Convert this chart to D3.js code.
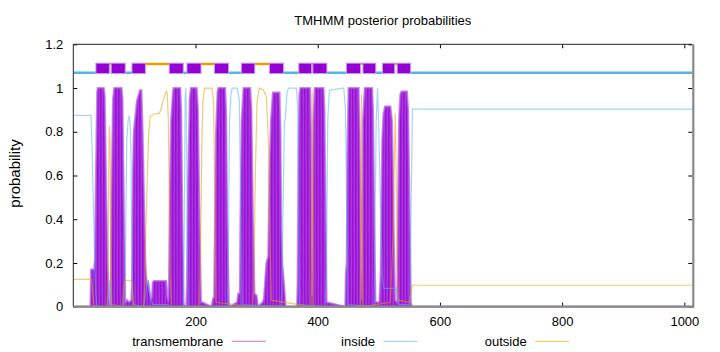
<!DOCTYPE html>
<meta charset="utf-8">
<script src="https://d3js.org/d3.v7.min.js"></script>
<style>
  body { margin: 0; background: #fff; }
  text { font-family: "Liberation Sans", Arial, sans-serif; }
</style>
<div id="chart"></div>
<script>
// posterior probabilities, as [residue, probability]
var transmembrane = [
  [0,0],[28,0],[29,0.17],[34,0.17],[35.5,0.22],[37,0.6],[39,0.98],[40,1],[50,1],[51.5,0.96],[53.5,0.6],[56,0.2],[58,0.05],[59.5,0],
  [61,0],[62.5,0.5],[65,0.95],[67,1],[79,1],[80.5,0.95],[83,0.4],[85,0.02],[88,0.03],[91,0.02],[95,0.03],
  [96,0.1],[97.5,0.6],[99,0.8],[104,0.94],[109,0.99],[111.5,0.99],[113.5,0.8],[116,0.45],[118,0.2],
  [120,0.1],[122,0.12],[124,0.08],[127,0.03],[129,0.05],[130,0.11],[132,0.117],[152,0.117],[153.5,0.05],[155.5,0.02],
  [156.5,0.1],[158,0.5],[160,0.85],[163,0.98],[164,1],[175,1],[176.5,0.9],[178.5,0.4],[180.5,0.02],[182,0],[185,0],
  [186,0.1],[188,0.6],[190.5,0.95],[192.5,1],[202,1],[204,0.9],[206.5,0.4],[209,0.02],[211,0.02],[226,0],[229,0.04],[230.5,0.04],
  [231.5,0.3],[233.5,0.8],[236,0.98],[237.5,1],[248.5,1],[250,0.9],[252,0.4],[254.5,0.02],[256,0],[268,0.02],[270,0.06],[272.5,0.06],
  [273.5,0.4],[275.5,0.85],[278.5,1],[289.5,1],[291.5,0.9],[294,0.4],[296.5,0.06],[300,0.05],[302,0],[310,0.02],[312,0.04],[316,0.2],[319,0.23],
  [321,0.6],[323.5,0.85],[326.5,0.98],[337.5,0.98],[339,0.8],[340.5,0.35],[342,0.2],[345,0.1],[347.5,0],[366,0],
  [367,0.1],[368.5,0.7],[370,0.97],[371.5,1],[387.5,1],[389,0.8],[390.3,0.3],[391,0.05],
  [391.7,0.3],[393,0.85],[395,1],[409.5,1],[411,0.9],[413,0.4],[414.5,0.02],[445,0],[446,0.15],[447.5,0.2],
  [448.5,0.7],[450.5,1],[467,1],[468.5,0.8],[470.3,0.3],[471.5,0.03],
  [472.5,0.3],[474,0.85],[477,1],[489,1],[490.5,0.9],[492.5,0.4],[494.5,0.02],[501,0.02],[503,0.15],
  [505.5,0.76],[507.5,0.88],[510,0.916],[519,0.916],[521.5,0.85],[523.5,0.55],[525,0.25],[526.5,0.03],[530,0.02],
  [531,0.3],[533,0.85],[535,0.97],[537,0.984],[546,0.984],[548,0.9],[550.5,0.4],[552.5,0.02],[554,0],[1013,0]
];
var inside = [
  [0,0.875],[29,0.875],[31,0.7],[33,0.45],[35,0.2],[37,0.05],[39,0],[55,0],[57.5,0.05],[59.5,0.12],[61,0.08],[62.5,0],
  [83,0],[85,0.15],[87.5,0.76],[90,0.86],[91.5,0.87],[93,0.84],[94.3,0.7],[96.2,0.15],[98.4,0.01],
  [115,0],[118,0.05],[121,0.12],[124,0.1],[127,0.03],[130,0.01],[155,0.01],[157,0],
  [180,0],[181.5,0.3],[183,0.95],[184,1],[185,0.9],[186.5,0.3],[188,0],
  [252,0],[254,0.3],[255.7,0.85],[258,0.97],[260,1],[268,1],[271.6,0.95],[273.8,0.5],[276,0.01],
  [339.5,0],[341,0.05],[343.3,0.45],[345.4,0.84],[347,0.86],[349.8,0.98],[352.5,1],[365,1],[367.2,0.92],[368.5,0.5],[370,0.01],
  [412,0],[414.3,0.15],[416.4,0.85],[419.2,0.99],[442.6,1],[445.4,0.9],[447,0.5],[449.2,0.01],
  [492,0],[493.5,0.3],[495.7,0.85],[497.9,1],[500,0.8],[502.8,0.45],[505.6,0.15],[508.2,0.084],[528,0.084],[530,0.06],[532.5,0.01],
  [551,0.01],[553,0.5],[555,0.904],[1013,0.904]
];
var outside = [
  [0,0.125],[30,0.125],[32,0.06],[34,0.01],[36,0],[55.5,0],[57,0.15],[58,0.6],[59,0.83],[60.2,0.76],[61.3,0.3],[63,0.01],
  [80,0],[83,0.1],[85,0.12],[94,0.12],[96,0.1],[98,0.02],[100,0],
  [115,0],[117,0.1],[118.7,0.35],[121,0.58],[123.5,0.8],[126,0.87],[131,0.88],[141,0.885],[144,0.91],[146.5,0.94],[149.5,0.965],
  [152.5,0.985],[154,0.97],[155.5,0.85],[157,0.5],[158.5,0.15],[160.5,0],
  [206,0],[207.7,0.15],[210.5,0.76],[212.1,0.94],[214.8,1],[226.9,1],[229.5,0.94],[231.1,0.6],[233.4,0.02],
  [293,0],[295.1,0.05],[297.9,0.6],[300.6,0.93],[304.4,1],[311.5,0.99],[315.9,0.96],[319.2,0.76],[321.3,0.4],[324.1,0.03],
  [389,0],[390.2,0.5],[391,0.98],[391.8,0.5],[393,0],
  [469.5,0],[470.8,0.5],[471.6,0.97],[472.4,0.5],[473.5,0],
  [519,0.02],[523.6,0.35],[525.5,0.7],[527,0.885],[528.5,0.6],[530,0.2],[532,0.03],[550,0.02],[552.5,0.06],[555,0.098],[1013,0.098]
];

// predicted topology, [start, end] residues
var topoInside = [[0,37],[85,96],[180,186],[254,275],[344,369],[415,447],[495,506],[552,1013]];
var topoOutside = [[59,62],[118,157],[209,231],[297,321],[390,392],[470,474],[526,530]];
var topoTM = [[37,59],[62,85],[96,118],[157,180],[186,209],[231,254],[275,297],[321,344],[369,390],[392,415],[447,470],[474,495],[506,526],[530,552]];

var seqLength = 1013;
var xTicks = [200, 400, 600, 800, 1000];
var yTicks = [0, 0.2, 0.4, 0.6, 0.8, 1, 1.2];
var legendLabels = ["transmembrane", "inside", "outside"];

var cTM = "#9400d3", cIn = "#56b4e9", cOut = "#e69f00";

var margin = {top: 44.3, right: 27.7, bottom: 45.3, left: 73.3},
    width = 720 - margin.left - margin.right,
    height = 352 - margin.top - margin.bottom;

var root = d3.select("#chart").append("svg")
    .attr("width", 720)
    .attr("height", 352);

var defs = root.append("defs");
var pat = defs.append("pattern")
    .attr("id", "impulses")
    .attr("patternUnits", "userSpaceOnUse")
    .attr("width", 3).attr("height", 10);
pat.append("rect").attr("width", 3).attr("height", 10).attr("fill", "#aa3cdf");
pat.append("rect").attr("width", 1.2).attr("height", 10).attr("fill", cTM);

var svg = root.append("g")
    .attr("transform", "translate(" + margin.left + "," + margin.top + ")");

var x = d3.scaleLinear().domain([0, seqLength]).range([0, width]);
var y = d3.scaleLinear().domain([0, 1.2]).range([height, 0]);

// axes, ticks pointing inwards like gnuplot
function styleAxis(g) {
  g.select(".domain").remove();
  g.selectAll("line").attr("stroke", "#000");
  g.selectAll("text").attr("font-size", 13).attr("fill", "#000")
    .attr("font-family", '"Liberation Sans", Arial, sans-serif');
}
svg.append("g")
    .call(d3.axisLeft(y).tickValues(yTicks).tickSize(-4).tickPadding(10).tickFormat(d => String(d)))
    .call(styleAxis);
svg.append("g")
    .attr("transform", "translate(" + width + ",0)")
    .call(d3.axisRight(y).tickValues(yTicks).tickSize(-4).tickFormat(""))
    .call(styleAxis);
svg.append("g")
    .attr("transform", "translate(0," + height + ")")
    .call(d3.axisBottom(x).tickValues(xTicks).tickSize(-4).tickPadding(10.5).tickFormat(d3.format("d")))
    .call(styleAxis);
svg.append("g")
    .call(d3.axisTop(x).tickValues(xTicks).tickSize(-4).tickFormat(""))
    .call(styleAxis);

// transmembrane as filled impulses (lw 2 gives a soft fringe)
var area = d3.area()
    .x(d => x(d[0]))
    .y0(y(0))
    .y1(d => y(d[1]));
svg.append("path")
    .datum(transmembrane)
    .attr("d", area)
    .attr("fill", "url(#impulses)")
    .attr("stroke", "#b256e4")
    .attr("stroke-opacity", 0.7)
    .attr("stroke-width", 2);

var line = d3.line()
    .x(d => x(d[0]))
    .y(d => y(d[1]));
svg.append("path")
    .datum(inside)
    .attr("d", line)
    .attr("fill", "none")
    .attr("stroke", cIn)
    .attr("stroke-opacity", 0.55)
    .attr("stroke-width", 1.2);
svg.append("path")
    .datum(outside)
    .attr("d", line)
    .attr("fill", "none")
    .attr("stroke", cOut)
    .attr("stroke-opacity", 0.55)
    .attr("stroke-width", 1.2);

// topology bar above the curves
svg.selectAll(".topoIn")
  .data(topoInside)
  .enter().append("line")
    .attr("x1", d => x(d[0])).attr("x2", d => x(d[1]))
    .attr("y1", y(1.07)).attr("y2", y(1.07))
    .attr("stroke", cIn).attr("stroke-width", 2.5);
svg.selectAll(".topoOut")
  .data(topoOutside)
  .enter().append("line")
    .attr("x1", d => x(d[0])).attr("x2", d => x(d[1]))
    .attr("y1", y(1.11)).attr("y2", y(1.11))
    .attr("stroke", cOut).attr("stroke-width", 2.5);
svg.selectAll(".topoTM")
  .data(topoTM)
  .enter().append("rect")
    .attr("x", d => x(d[0]))
    .attr("width", d => x(d[1]) - x(d[0]))
    .attr("y", y(1.09) - 5.2)
    .attr("height", 10.4)
    .attr("fill", cTM)
    .attr("stroke", "#c79ae8")
    .attr("stroke-width", 1);

// border: thin black top/left, thick grey bottom/right
svg.append("line").attr("x1", 0).attr("x2", width).attr("y1", 0).attr("y2", 0)
    .attr("stroke", "#222").attr("stroke-width", 1);
svg.append("line").attr("x1", 0).attr("x2", 0).attr("y1", 0).attr("y2", height)
    .attr("stroke", "#222").attr("stroke-width", 1);
svg.append("line").attr("x1", 0).attr("x2", width + 1).attr("y1", height).attr("y2", height)
    .attr("stroke", "#888").attr("stroke-width", 2.2);
svg.append("line").attr("x1", width + 1).attr("x2", width + 1).attr("y1", 0).attr("y2", height + 1)
    .attr("stroke", "#888").attr("stroke-width", 2.2);

// title and axis label
root.append("text")
    .attr("x", margin.left + width / 2).attr("y", 25)
    .attr("text-anchor", "middle").attr("font-size", 13)
    .text("TMHMM posterior probabilities");
root.append("text")
    .attr("transform", "translate(20," + (margin.top + height / 2 - 2) + ")rotate(-90)")
    .attr("text-anchor", "middle").attr("font-size", 15)
    .text("probability");

// key below the plot
var legendColors = [cTM, cIn, cOut];
var key = root.selectAll(".key")
  .data(legendLabels)
  .enter().append("g")
    .attr("transform", (d, i) => "translate(" + (223.3 + i * 151.7) + ",0)");
key.append("text")
    .attr("x", 0).attr("y", 346)
    .attr("text-anchor", "end").attr("font-size", 13)
    .text(d => d);
key.append("line")
    .attr("x1", 8.4).attr("x2", 42.4)
    .attr("y1", 341.3).attr("y2", 341.3)
    .attr("stroke", (d, i) => legendColors[i])
    .attr("stroke-opacity", (d, i) => i === 0 ? 0.45 : 0.55)
    .attr("stroke-width", 1.2);
</script>
